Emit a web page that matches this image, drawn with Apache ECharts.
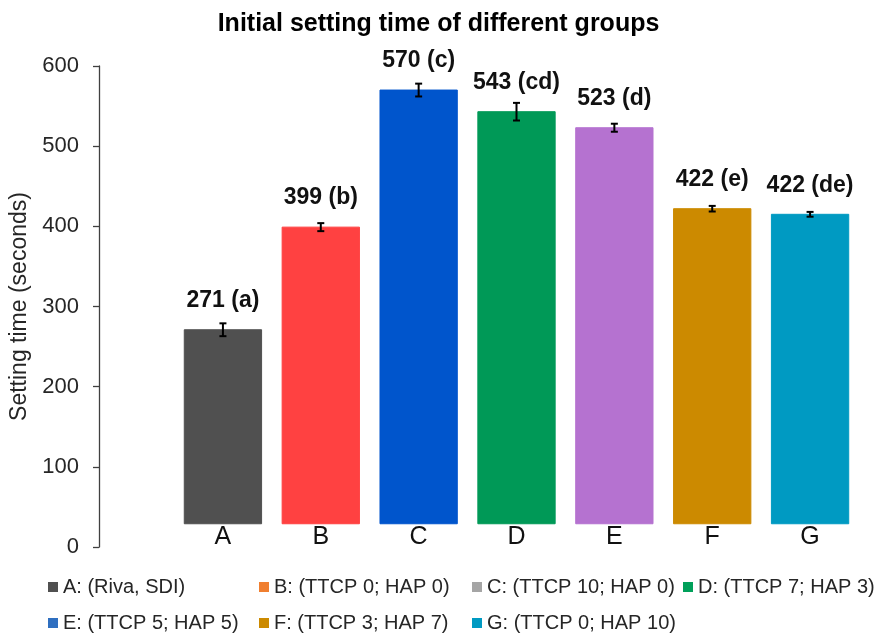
<!DOCTYPE html>
<html>
<head>
<meta charset="utf-8">
<script src="https://cdn.jsdelivr.net/npm/echarts@6/dist/echarts.min.js"></script>
<style>
html,body{margin:0;padding:0;background:#fff;}
#chart{width:877px;height:633px;}
</style>
</head>
<body>
<div id="chart"></div>
<script>
const categories = ['A', 'B', 'C', 'D', 'E', 'F', 'G'];
const settingTimes = [271, 399, 570, 543, 523, 422, 415];
const errorValues = [8, 5, 8, 11, 5, 3.5, 3];
const valueLabels = ['271 (a)', '399 (b)', '570 (c)', '543 (cd)', '523 (d)', '422 (e)', '422 (de)'];
const groupNames = ['A: (Riva, SDI)', 'B: (TTCP 0; HAP 0)', 'C: (TTCP 10; HAP 0)', 'D: (TTCP 7; HAP 3)',
                    'E: (TTCP 5; HAP 5)', 'F: (TTCP 3; HAP 7)', 'G: (TTCP 0; HAP 10)'];
const barColors = ['#505050', '#FF4141', '#0055CC', '#009957', '#B572D0', '#CC8A00', '#009AC2'];
const legendColors = ['#505050', '#F07F30', '#A5A5A5', '#00A05A', '#2F6FC0', '#CC8A00', '#009AC2'];
const yTicks = { min: 0, max: 600, step: 100 };
const barBase = 29;

const FONT = '"Liberation Sans", Arial, sans-serif';

const chart = echarts.init(document.getElementById('chart'), null, { renderer: 'canvas' });

function renderBar(params, api) {
  const idx = api.value(0);
  const val = api.value(1);
  const err = api.value(2);
  const top = api.coord([idx, val]);
  const bottom = api.coord([idx, barBase]);
  const band = api.size([1, 0])[0];
  const w = band * 0.79;
  const hi = api.coord([idx, val + err]);
  const lo = api.coord([idx, val - err]);
  const cap = 3.5;
  const color = barColors[idx];
  return {
    type: 'group',
    children: [
      { type: 'rect', shape: { x: top[0] - w / 2, y: top[1], width: w, height: bottom[1] - top[1] },
        style: { fill: color, stroke: color, lineWidth: 1, opacity: 1 } },
      { type: 'line', shape: { x1: top[0], y1: hi[1], x2: top[0], y2: lo[1] }, style: { stroke: '#000', lineWidth: 2 } },
      { type: 'line', shape: { x1: top[0] - cap, y1: hi[1], x2: top[0] + cap, y2: hi[1] }, style: { stroke: '#000', lineWidth: 2 } },
      { type: 'line', shape: { x1: top[0] - cap, y1: lo[1], x2: top[0] + cap, y2: lo[1] }, style: { stroke: '#000', lineWidth: 2 } },
      { type: 'text', style: { x: top[0], y: top[1] - 29, text: valueLabels[idx], align: 'center', verticalAlign: 'middle',
        fill: '#111', font: 'bold 23px ' + FONT } }
    ]
  };
}

const series = categories.map((c, i) => ({
  name: groupNames[i],
  type: 'custom',
  renderItem: renderBar,
  itemStyle: { color: barColors[i] },
  encode: { x: 0, y: 1 },
  data: [[i, settingTimes[i], errorValues[i]]],
  silent: true
}));

const legendColumns = [48, 259, 472, 683];
const legendRows = [577, 613];

const legends = groupNames.map((n, i) => ({
  data: [{ name: n, icon: 'rect', itemStyle: { color: legendColors[i] } }],
  left: legendColumns[i % 4], top: legendRows[Math.floor(i / 4)],
  padding: 0,
  itemWidth: 10, itemHeight: 10,
  textStyle: { fontSize: 20, fontFamily: FONT, color: '#262626' },
  selectedMode: false
}));

chart.setOption({
  animation: false,
  backgroundColor: '#fff',
  title: {
    text: 'Initial setting time of different groups',
    left: 'center', top: 7,
    textStyle: { fontSize: 25, fontWeight: 'bold', fontFamily: FONT, color: '#000' }
  },
  legend: legends,
  grid: { left: 174, right: 18, top: 66, bottom: 86, containLabel: false },
  xAxis: {
    type: 'category',
    data: categories,
    axisLine: { show: false },
    axisTick: { show: false },
    axisLabel: { fontSize: 25, fontFamily: FONT, color: '#111', margin: -22 }
  },
  yAxis: {
    type: 'value',
    min: yTicks.min, max: yTicks.max, interval: yTicks.step,
    offset: 75,
    name: 'Setting time (seconds)',
    nameLocation: 'middle',
    nameGap: 56,
    nameTextStyle: { fontSize: 23, fontFamily: FONT, color: '#262626' },
    axisLine: { show: true, lineStyle: { color: '#404040', width: 1.3 } },
    axisTick: { show: true, length: 6, lineStyle: { color: '#404040', width: 1.3 } },
    axisLabel: { fontSize: 22, fontFamily: FONT, color: '#262626', margin: 20 },
    splitLine: { show: false }
  },
  series: series
});
</script>
</body>
</html>
